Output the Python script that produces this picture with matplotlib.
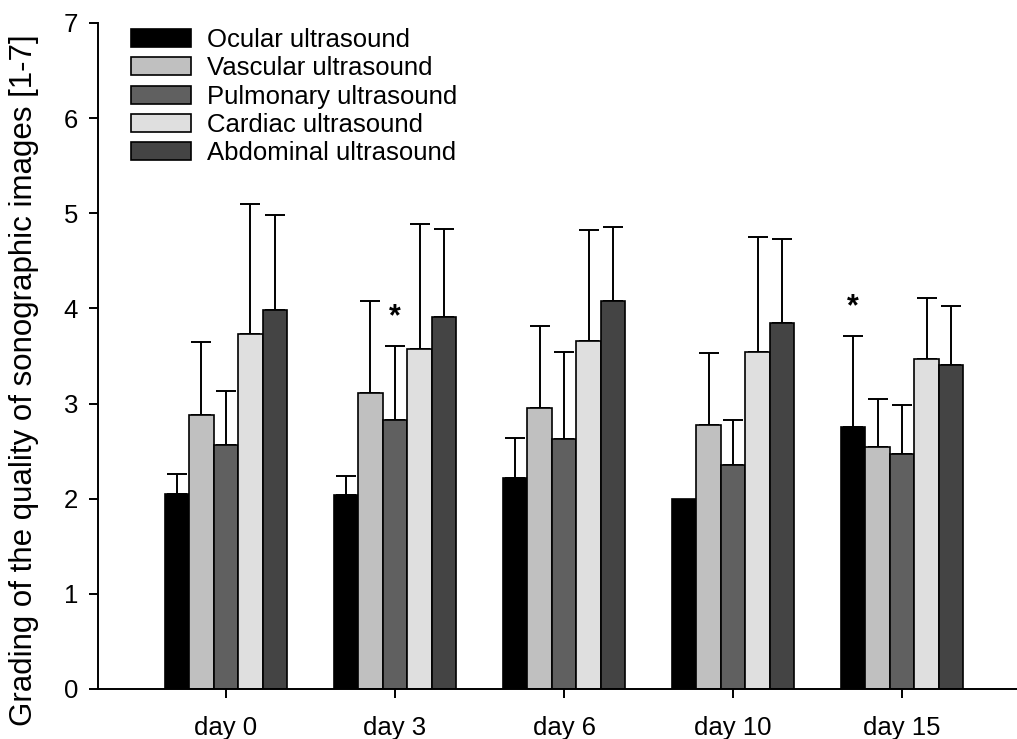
import matplotlib.pyplot as plt
import numpy as np

plt.rcParams['font.family'] = ['Liberation Sans', 'DejaVu Sans']

days = ['day 0', 'day 3', 'day 6', 'day 10', 'day 15']
series = ['Ocular ultrasound', 'Vascular ultrasound', 'Pulmonary ultrasound',
          'Cardiac ultrasound', 'Abdominal ultrasound']
colors = ['#000000', '#c0c0c0', '#606060', '#dfdfdf', '#444444']

# means per series (one value per day)
ocular = [2.05, 2.04, 2.22, 2.00, 2.75]
vascular = [2.88, 3.11, 2.95, 2.77, 2.54]
pulmonary = [2.56, 2.83, 2.63, 2.35, 2.47]
cardiac = [3.73, 3.57, 3.66, 3.54, 3.47]
abdominal = [3.98, 3.91, 4.08, 3.85, 3.40]

# upper error (SD)
ocular_sd = [0.21, 0.20, 0.42, 0.00, 0.96]
vascular_sd = [0.77, 0.97, 0.87, 0.76, 0.51]
pulmonary_sd = [0.57, 0.78, 0.91, 0.48, 0.51]
cardiac_sd = [1.37, 1.32, 1.16, 1.21, 0.64]
abdominal_sd = [1.00, 0.92, 0.78, 0.88, 0.63]

# significance marks: (day index, series index)
stars = [(1, 2), (4, 0)]

means = [ocular, vascular, pulmonary, cardiac, abdominal]
sds = [ocular_sd, vascular_sd, pulmonary_sd, cardiac_sd, abdominal_sd]

fig = plt.figure(figsize=(10.17, 7.39), dpi=100)
ax = fig.add_axes([0.0964, 0.0677, 0.9036, 0.9012])

x = np.arange(len(days))
w = 0.145
for i in range(len(series)):
    pos = x + (i - 2) * w
    m = np.array(means[i])
    s = np.array(sds[i])
    ax.bar(pos, m, w, color=colors[i], edgecolor='black', linewidth=1.2,
           label=series[i], zorder=2)
    has = s > 0
    ax.errorbar(pos[has], m[has], yerr=[np.zeros(has.sum()), s[has]], fmt='none',
                ecolor='black', elinewidth=1.4, capsize=7.5, capthick=1.4, zorder=1)

for d, si in stars:
    top = means[si][d] + sds[si][d]
    ax.text(d + (si - 2) * w, top + 0.3, '*', ha='center', va='center',
            fontsize=22, fontweight='bold')

ax.set_xlim(-0.757, 4.68)
ax.set_ylim(0, 7)
ax.set_yticks(range(8))
ax.set_xticks(x)
ax.set_xticklabels(days)
ax.tick_params(labelsize=18.5, width=1.4, length=6.5, direction='out')
ax.tick_params(axis='x', pad=13)
ax.tick_params(axis='y', pad=8)
ax.spines['top'].set_visible(False)
ax.spines['right'].set_visible(False)
ax.spines['left'].set_linewidth(1.4)
ax.spines['bottom'].set_linewidth(1.4)
ax.set_ylabel('Grading of the quality of sonographic images [1-7]', fontsize=22.5)
ax.yaxis.set_label_coords(-0.0642, 0.464)

ax.legend(loc='upper left', bbox_to_anchor=(0.0246, 1.008), frameon=False, fontsize=18.5,
          handlelength=2.33, handleheight=0.7, labelspacing=0.17, handletextpad=0.62,
          borderaxespad=0)

fig.savefig('out.png', dpi=100)
